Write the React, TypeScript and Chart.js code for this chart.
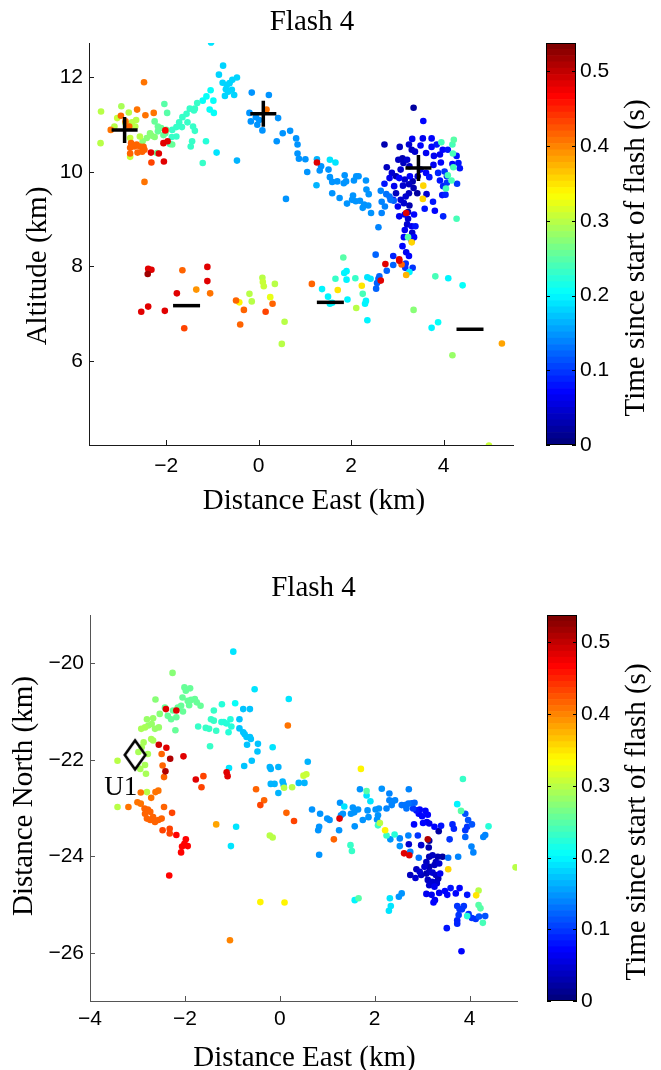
import React, { useEffect, useRef } from "react";
import { Chart, registerables } from "chart.js";

Chart.register(...registerables);

type Pt = [number, number, number]; // [east km, altitude or north km, time s]

// ---------------- scales, ticks, labels ----------------
const T_MAX = 0.538;
const CBAR_TICKS = [0, 0.1, 0.2, 0.3, 0.4, 0.5];
const CBAR_LEVELS = 64;

const PANEL_TITLE = "Flash 4";
const X_LABEL = "Distance East (km)";
const ALT_Y_LABEL = "Altitude (km)";
const PLAN_Y_LABEL = "Distance North (km)";
const CBAR_LABEL = "Time since start of flash (s)";

const ALT_X_RANGE = [-3.67, 5.5];
const ALT_Y_RANGE = [4.22, 12.73];
const ALT_X_TICKS = [-2, 0, 2, 4];
const ALT_Y_TICKS = [6, 8, 10, 12];

const PLAN_X_RANGE = [-4, 5];
const PLAN_Y_RANGE = [-27, -19];
const PLAN_X_TICKS = [-4, -2, 0, 2, 4];
const PLAN_Y_TICKS = [-26, -24, -22, -20];

// ---------------- markers ----------------
const ALT_CROSSES = [[-2.9, 10.89], [0.1, 11.23], [3.455, 10.085]];
const ALT_DASHES = [[-1.56, 7.17], [1.55, 7.24], [4.57, 6.67]];
const PLAN_U1 = [[-3.05, -21.9]];
const PLAN_U1_TEXT = "U1";

// ---------------- altitude view (east vs altitude) ----------------
const altWestEarly: Pt[] = [
  [-1.03, 12.74, 0.19],
  [-0.77, 12.25, 0.18], [-0.86, 12.06, 0.18], [-0.78, 11.89, 0.18], [-0.69, 11.84, 0.18], [-0.63, 11.88, 0.18],
  [-0.71, 11.75, 0.18], [-0.58, 11.74, 0.18], [-0.47, 12.0, 0.18], [-0.57, 11.95, 0.18], [-0.66, 11.7, 0.18],
  [-0.73, 11.61, 0.18], [-0.53, 11.63, 0.18],
  [-1.04, 11.73, 0.21], [-1.13, 11.6, 0.21], [-1.21, 11.51, 0.21], [-0.98, 11.51, 0.21], [-1.06, 11.32, 0.21],
  [-0.97, 11.25, 0.21], [-0.91, 10.41, 0.19],
  [-1.33, 11.46, 0.23], [-1.38, 11.34, 0.23], [-1.49, 11.34, 0.23], [-1.4, 11.3, 0.23], [-1.56, 11.23, 0.23],
  [-1.65, 11.16, 0.23], [-1.72, 11.05, 0.23], [-1.54, 11.05, 0.23], [-1.66, 10.95, 0.23], [-1.42, 10.96, 0.23],
  [-1.38, 10.87, 0.23], [-1.78, 10.95, 0.23], [-1.87, 10.89, 0.23], [-1.78, 10.75, 0.23], [-1.88, 10.74, 0.23],
  [-1.92, 10.59, 0.24], [-1.44, 10.65, 0.23], [-1.47, 10.54, 0.23], [-1.14, 10.65, 0.22], [-1.21, 10.19, 0.23],
  [-0.47, 10.24, 0.16],
  [-2.04, 11.44, 0.25], [-1.98, 11.25, 0.25], [-2.25, 11.07, 0.26], [-2.18, 10.96, 0.26], [-2.11, 10.93, 0.26],
  [-2.02, 10.82, 0.26], [-2.06, 10.78, 0.26], [-2.0, 10.89, 0.26], [-2.18, 10.86, 0.26], [-2.35, 10.82, 0.27],
  [-2.32, 10.77, 0.27], [-2.42, 10.72, 0.27], [-2.25, 10.74, 0.27], [-2.51, 10.65, 0.27], [-1.87, 10.58, 0.26],
  [-2.2, 10.4, 0.26],
];

const altWestLate: Pt[] = [
  [-3.41, 11.28, 0.3], [-3.42, 10.61, 0.3], [-2.97, 11.39, 0.29], [-2.81, 11.26, 0.3], [-2.65, 11.1, 0.3],
  [-2.74, 11.05, 0.3], [-2.88, 11.03, 0.3], [-3.06, 11.14, 0.31], [-3.12, 10.96, 0.3], [-2.67, 10.96, 0.3],
  [-2.78, 10.72, 0.31], [-2.57, 10.75, 0.3], [-2.78, 10.32, 0.31],
  [-2.48, 11.9, 0.41], [-2.63, 11.32, 0.41], [-2.45, 11.2, 0.41], [-2.27, 11.25, 0.41], [-2.98, 11.19, 0.42],
  [-2.88, 11.07, 0.41], [-3.2, 10.89, 0.41], [-2.8, 10.96, 0.42], [-2.76, 10.61, 0.42], [-2.69, 10.54, 0.42],
  [-2.78, 10.51, 0.42], [-2.64, 10.58, 0.42], [-2.57, 10.54, 0.42], [-2.49, 10.53, 0.42], [-2.47, 10.47, 0.42],
  [-2.62, 10.41, 0.42], [-2.52, 10.43, 0.42], [-2.78, 10.39, 0.42], [-2.32, 10.2, 0.43], [-2.47, 9.79, 0.41],
  [-2.33, 10.41, 0.48], [-2.16, 10.39, 0.48], [-2.06, 10.61, 0.48], [-1.97, 10.65, 0.48], [-2.02, 10.88, 0.47],
  [-2.05, 10.22, 0.48],
  [0.17, 11.32, 0.41],
];

const altChannel: Pt[] = [
  [-0.15, 11.68, 0.15], [0.22, 11.63, 0.15], [-0.2, 11.25, 0.15], [-0.17, 11.07, 0.15], [-0.06, 11.16, 0.15],
  [0.01, 11.1, 0.15], [-0.03, 11.0, 0.15], [0.08, 10.88, 0.15],
  [0.42, 11.14, 0.15], [0.39, 10.65, 0.15], [0.52, 10.82, 0.15], [0.68, 10.87, 0.15], [0.81, 10.71, 0.15],
  [0.84, 10.58, 0.15], [0.84, 10.39, 0.15], [0.87, 10.28, 0.15], [1.01, 10.27, 0.15], [1.05, 10.0, 0.15],
  [1.26, 10.27, 0.16], [1.25, 9.72, 0.16], [0.59, 9.43, 0.15], [1.35, 10.12, 0.15], [1.32, 10.03, 0.15],
  [1.51, 10.05, 0.15], [1.54, 10.26, 0.19], [1.66, 10.2, 0.19], [1.54, 9.89, 0.15], [1.59, 9.79, 0.15],
  [1.7, 9.8, 0.15], [1.59, 9.55, 0.15], [1.86, 9.93, 0.15], [1.84, 9.76, 0.15], [1.89, 9.8, 0.15],
  [2.06, 9.82, 0.15], [2.11, 9.91, 0.15], [2.16, 9.91, 0.15], [2.32, 9.82, 0.15], [2.33, 9.63, 0.15],
  [2.38, 9.53, 0.15], [1.75, 9.45, 0.15], [1.91, 9.33, 0.15], [2.04, 9.5, 0.15], [2.02, 9.41, 0.15],
  [2.1, 9.38, 0.15], [2.19, 9.39, 0.15], [2.28, 9.31, 0.15], [2.37, 9.29, 0.15], [2.25, 9.24, 0.15],
  [2.43, 9.13, 0.15], [2.66, 9.13, 0.14], [2.59, 8.83, 0.14], [2.66, 9.37, 0.14], [2.73, 9.27, 0.14],
  [2.64, 9.6, 0.14], [2.76, 9.53, 0.13], [2.83, 9.48, 0.13], [2.85, 9.41, 0.13], [2.92, 9.39, 0.12],
  [1.26, 10.2, 0.48],
];

const altCore: Pt[] = [
  [3.35, 11.36, 0.02], [3.56, 11.08, 0.07], [2.72, 10.58, 0.03], [3.32, 10.7, 0.06], [3.55, 10.71, 0.06],
  [3.74, 10.71, 0.07], [3.05, 10.53, 0.04], [3.25, 10.58, 0.05], [3.31, 10.47, 0.04], [3.38, 10.43, 0.05],
  [3.5, 10.56, 0.07], [3.62, 10.4, 0.06], [3.74, 10.53, 0.07], [3.85, 10.58, 0.08], [3.98, 10.47, 0.07],
  [3.92, 10.37, 0.06], [4.09, 10.47, 0.08], [3.79, 10.34, 0.06], [3.94, 10.2, 0.07], [4.19, 10.17, 0.07],
  [4.32, 10.19, 0.08], [4.35, 10.08, 0.08], [4.28, 10.34, 0.08], [3.02, 10.26, 0.04], [3.11, 10.29, 0.03],
  [3.13, 10.19, 0.04], [3.21, 10.26, 0.05], [3.26, 10.12, 0.04], [3.07, 10.05, 0.05], [2.77, 10.1, 0.04],
  [2.88, 9.98, 0.05], [2.97, 9.91, 0.03], [2.83, 9.87, 0.06], [3.04, 9.87, 0.07], [3.16, 9.84, 0.05],
  [3.27, 9.91, 0.07], [3.33, 9.8, 0.03], [3.44, 9.91, 0.05], [3.5, 10.05, 0.06], [3.62, 9.98, 0.07],
  [3.69, 9.89, 0.08], [3.78, 10.15, 0.06], [3.88, 9.98, 0.09], [3.92, 9.82, 0.08], [4.02, 10.01, 0.1],
  [4.07, 9.91, 0.09], [4.07, 9.77, 0.1], [3.99, 9.7, 0.09], [3.97, 9.51, 0.08], [4.04, 9.52, 0.09],
  [4.29, 9.75, 0.1], [2.72, 9.75, 0.08], [2.93, 9.7, 0.06], [3.12, 9.71, 0.05], [3.25, 9.74, 0.04],
  [3.35, 9.66, 0.03], [3.43, 9.55, 0.02], [3.25, 9.55, 0.04], [3.18, 9.48, 0.05], [2.97, 9.55, 0.04],
  [2.91, 9.41, 0.07], [3.07, 9.41, 0.05], [3.01, 9.27, 0.06], [3.14, 9.34, 0.05], [3.26, 9.29, 0.03],
  [3.16, 9.1, 0.06], [3.23, 9.15, 0.04], [3.36, 9.1, 0.07], [3.04, 9.06, 0.06], [3.23, 9.01, 0.05],
  [3.21, 8.89, 0.05], [3.31, 8.85, 0.06], [3.39, 8.85, 0.08], [3.16, 8.77, 0.06], [3.32, 8.71, 0.05],
  [3.14, 8.62, 0.07], [3.36, 8.62, 0.07], [3.31, 8.55, 0.06], [3.11, 8.43, 0.07], [3.19, 8.3, 0.06],
  [3.25, 8.22, 0.07], [2.91, 8.22, 0.09], [3.77, 9.37, 0.08], [3.59, 9.22, 0.08], [3.81, 9.18, 0.07],
  [3.99, 9.06, 0.09], [3.63, 9.53, 0.05],
  [3.95, 10.63, 0.24], [4.22, 10.68, 0.25], [4.19, 10.58, 0.24], [4.2, 10.39, 0.24], [4.21, 10.1, 0.24],
  [4.09, 9.93, 0.24], [4.17, 9.82, 0.24], [4.05, 9.65, 0.24], [4.28, 9.01, 0.24], [1.83, 8.19, 0.25],
  [3.23, 8.62, 0.25],
  [3.56, 9.71, 0.36], [3.55, 9.43, 0.36], [3.31, 8.51, 0.36],
  [3.19, 9.13, 0.48], [3.04, 8.15, 0.48],
];

const altLower: Pt[] = [
  [-2.39, 7.95, 0.48], [-2.32, 7.93, 0.48], [-2.4, 7.84, 0.52], [-2.54, 7.04, 0.48], [-2.39, 7.15, 0.48],
  [-2.03, 7.06, 0.48], [-1.77, 7.43, 0.48], [-1.11, 7.99, 0.48], [-1.11, 7.69, 0.48],
  [-1.65, 7.92, 0.42], [-1.61, 6.69, 0.43], [-0.49, 7.28, 0.42], [-0.32, 7.08, 0.42], [-0.4, 6.77, 0.42],
  [0.15, 7.04, 0.43], [0.3, 7.21, 0.42], [-1.05, 7.43, 0.41], [-1.35, 7.51, 0.39], [-0.42, 7.24, 0.34],
  [-0.2, 7.42, 0.3], [-0.15, 7.26, 0.3], [0.08, 7.76, 0.3], [0.09, 7.67, 0.31], [0.11, 7.58, 0.31],
  [0.35, 7.63, 0.3], [0.25, 7.35, 0.32], [0.56, 6.83, 0.3], [0.5, 6.36, 0.3],
  [1.15, 7.63, 0.42],
  [1.37, 7.52, 0.2], [1.5, 7.36, 0.2], [1.54, 7.21, 0.2], [1.59, 7.23, 0.2], [1.85, 7.86, 0.2],
  [1.9, 7.9, 0.2], [1.9, 7.72, 0.2], [1.92, 7.3, 0.2], [2.32, 7.27, 0.2], [2.3, 7.21, 0.2],
  [2.35, 6.86, 0.2], [2.35, 7.77, 0.19], [2.42, 7.74, 0.19], [3.74, 6.7, 0.2], [3.88, 6.82, 0.21],
  [4.1, 7.75, 0.2], [4.41, 7.6, 0.21], [3.26, 7.88, 0.2],
  [1.66, 7.74, 0.23], [2.09, 7.75, 0.23], [2.25, 7.42, 0.24], [3.82, 7.79, 0.24],
  [1.71, 7.5, 0.35], [2.23, 7.59, 0.35], [3.19, 7.82, 0.37],
  [2.11, 7.12, 0.3], [4.19, 6.12, 0.28], [4.98, 4.21, 0.31], [3.35, 7.08, 0.27], [5.26, 6.37, 0.38],
  [2.53, 8.25, 0.12], [3.18, 8.06, 0.1], [3.17, 7.97, 0.1], [3.33, 7.97, 0.1], [2.91, 8.03, 0.12],
  [2.77, 7.91, 0.12], [2.61, 7.79, 0.12], [2.59, 7.74, 0.12], [2.54, 7.53, 0.12], [2.56, 7.65, 0.12],
  [2.74, 8.05, 0.48], [3.04, 8.12, 0.48], [2.64, 7.7, 0.48], [3.09, 8.04, 0.42],
];

// ---------------- plan view (east vs north) ----------------
const planWest: Pt[] = [
  [-2.26, -20.2, 0.27],
  [-2.62, -20.75, 0.27], [-2.42, -20.92, 0.26], [-2.53, -21.05, 0.27], [-2.36, -21.09, 0.26], [-2.29, -21.16, 0.26],
  [-2.18, -21.12, 0.26], [-2.25, -20.98, 0.26], [-2.15, -20.92, 0.26], [-2.08, -20.88, 0.26], [-2.01, -20.5, 0.26],
  [-1.98, -20.57, 0.26], [-1.89, -20.52, 0.26], [-2.05, -20.71, 0.26], [-1.94, -20.78, 0.26], [-1.87, -20.76, 0.26],
  [-1.79, -20.74, 0.26], [-1.75, -20.81, 0.26], [-1.67, -20.88, 0.26], [-1.91, -20.87, 0.26], [-2.04, -21.0, 0.26],
  [-2.2, -21.39, 0.26],
  [-2.8, -21.16, 0.28], [-2.67, -21.14, 0.28], [-2.7, -21.26, 0.28], [-2.77, -21.29, 0.28], [-2.55, -21.33, 0.28],
  [-2.63, -21.36, 0.28], [-2.84, -21.33, 0.29], [-2.92, -21.36, 0.29], [-2.71, -21.57, 0.29], [-2.67, -21.6, 0.29],
  [-2.87, -21.64, 0.29], [-2.91, -21.74, 0.29], [-2.98, -21.84, 0.29], [-2.78, -21.88, 0.29], [-2.84, -22.11, 0.29],
  [-2.82, -22.29, 0.29], [-2.94, -22.19, 0.29], [-3.42, -22.02, 0.3], [-3.42, -22.98, 0.3], [-2.8, -22.67, 0.3],
  [-2.4, -20.95, 0.48], [-2.18, -20.98, 0.48], [-2.55, -21.69, 0.49], [-2.39, -21.75, 0.48], [-2.31, -21.98, 0.51],
  [-2.41, -22.24, 0.51], [-2.03, -21.93, 0.48], [-1.77, -22.41, 0.48], [-1.12, -22.26, 0.48], [-1.1, -22.34, 0.48],
  [-2.18, -23.56, 0.47], [-1.98, -23.65, 0.47], [-2.01, -23.74, 0.47], [-1.94, -23.79, 0.47], [-2.06, -23.8, 0.47],
  [-2.08, -23.92, 0.47], [-2.33, -24.4, 0.47],
  [-2.49, -21.88, 0.42], [-2.47, -22.12, 0.42], [-2.44, -22.36, 0.42], [-1.61, -22.34, 0.43], [-1.65, -22.57, 0.43],
  [-0.5, -22.61, 0.42], [-0.33, -22.84, 0.42], [-0.41, -22.94, 0.43], [0.14, -23.1, 0.42], [0.3, -23.27, 0.43],
  [-3.0, -22.88, 0.41], [-2.93, -22.91, 0.41], [-3.19, -22.98, 0.41], [-2.85, -23.01, 0.42], [-2.78, -23.03, 0.42],
  [-2.84, -23.12, 0.42], [-2.73, -23.08, 0.42], [-2.67, -23.19, 0.42], [-2.8, -23.22, 0.42], [-2.73, -23.25, 0.42],
  [-2.63, -23.29, 0.42], [-2.56, -23.25, 0.42], [-2.49, -23.22, 0.42], [-2.44, -22.98, 0.42], [-2.27, -23.1, 0.43],
  [-2.47, -23.46, 0.43], [-2.32, -23.43, 0.43], [-2.62, -22.67, 0.41], [-2.56, -22.64, 0.41], [-2.93, -22.68, 0.41],
  [-2.71, -22.79, 0.41], [-2.32, -23.53, 0.43],
  [-1.34, -23.34, 0.38], [0.17, -21.29, 0.41], [-1.05, -25.74, 0.4],
];

const planChannel: Pt[] = [
  [-0.98, -19.76, 0.19], [-0.53, -20.54, 0.19], [0.19, -20.74, 0.19],
  [-1.72, -21.31, 0.23], [-1.56, -21.34, 0.23], [-1.49, -21.36, 0.23], [-1.39, -20.98, 0.23], [-1.45, -21.16, 0.23],
  [-1.39, -21.19, 0.23], [-1.34, -21.4, 0.23], [-1.22, -20.85, 0.22], [-1.23, -21.22, 0.22], [-1.18, -21.22, 0.22],
  [-1.12, -21.25, 0.22], [-1.04, -21.16, 0.22], [-1.02, -21.31, 0.22], [-1.08, -21.43, 0.22], [-1.47, -21.72, 0.23],
  [-0.94, -20.83, 0.21],
  [-0.77, -20.95, 0.17], [-0.63, -20.95, 0.17], [-0.85, -21.16, 0.17], [-0.85, -21.35, 0.17], [-0.77, -21.43, 0.17],
  [-0.74, -21.47, 0.17], [-0.7, -21.53, 0.17], [-0.63, -21.53, 0.17], [-0.61, -21.57, 0.17], [-0.69, -21.69, 0.17],
  [-0.46, -21.67, 0.17], [-0.47, -21.83, 0.17], [-0.59, -22.02, 0.17], [-0.75, -22.13, 0.17], [-1.07, -22.17, 0.19],
  [-0.21, -22.15, 0.16], [-0.19, -22.19, 0.16], [-0.03, -22.15, 0.16], [-0.15, -21.74, 0.19], [-0.19, -22.5, 0.16],
  [-0.11, -22.5, 0.16], [0.06, -22.45, 0.16], [0.08, -22.52, 0.16], [-0.03, -22.69, 0.16], [0.4, -22.48, 0.16],
  [0.52, -22.48, 0.16], [-0.92, -23.39, 0.19], [-1.03, -23.79, 0.19],
  [0.26, -22.57, 0.3], [0.09, -22.58, 0.3], [0.5, -22.33, 0.31], [0.56, -22.3, 0.31], [-0.21, -23.57, 0.3],
  [-0.15, -23.61, 0.3], [0.59, -22.04, 0.16], [1.71, -22.19, 0.34], [-0.41, -24.95, 0.34], [0.1, -24.96, 0.34],
];

const planEast: Pt[] = [
  [0.68, -23.03, 0.15], [0.85, -23.12, 0.15], [1.0, -23.22, 0.15], [1.05, -23.25, 0.15], [1.27, -22.89, 0.15],
  [1.36, -22.97, 0.19], [1.33, -23.12, 0.15], [1.29, -23.15, 0.15], [1.54, -22.99, 0.15], [1.65, -23.03, 0.15],
  [1.57, -23.09, 0.15], [1.5, -23.12, 0.15], [1.75, -23.25, 0.15], [1.58, -23.38, 0.15], [1.85, -23.05, 0.15],
  [1.91, -22.86, 0.19], [2.02, -23.03, 0.15], [2.09, -23.01, 0.15], [1.87, -23.19, 0.15], [2.05, -23.24, 0.15],
  [2.07, -23.15, 0.15], [2.15, -22.6, 0.15], [1.69, -22.61, 0.15], [2.25, -23.01, 0.14], [2.31, -22.7, 0.14],
  [2.31, -22.84, 0.14], [2.38, -22.86, 0.14], [2.36, -22.94, 0.14], [2.43, -22.84, 0.14], [2.57, -22.94, 0.13],
  [2.64, -22.94, 0.13], [2.67, -23.01, 0.13], [2.72, -22.61, 0.14], [2.71, -22.91, 0.13], [2.78, -22.9, 0.12],
  [2.84, -22.89, 0.12], [2.81, -23.01, 0.1], [2.88, -23.05, 0.08], [2.95, -23.03, 0.07], [2.93, -23.12, 0.07],
  [3.0, -23.17, 0.07], [3.07, -23.06, 0.07], [3.12, -23.14, 0.07], [3.02, -23.31, 0.07], [2.83, -23.34, 0.07],
  [3.1, -23.29, 0.06], [3.15, -23.32, 0.06], [3.26, -23.39, 0.07], [3.4, -23.37, 0.08], [3.64, -23.34, 0.09],
  [3.67, -23.43, 0.09], [3.91, -23.12, 0.11], [3.97, -23.25, 0.11], [4.05, -23.34, 0.11], [3.95, -23.39, 0.1],
  [3.91, -23.46, 0.1], [1.25, -23.46, 0.15], [0.81, -23.46, 0.15], [0.83, -23.39, 0.15],
  [1.26, -23.22, 0.48], [3.12, -23.65, 0.51], [3.35, -23.48, 0.02], [4.4, -23.38, 0.22], [1.83, -22.65, 0.25],
  [1.83, -22.74, 0.19], [2.11, -23.31, 0.3], [2.22, -23.46, 0.34], [2.07, -23.36, 0.23], [2.25, -23.57, 0.23],
  [2.42, -23.55, 0.22],
  [2.71, -23.57, 0.14], [2.91, -23.57, 0.1], [2.53, -23.63, 0.14], [2.33, -23.65, 0.15], [3.58, -23.65, 0.1],
  [3.91, -23.6, 0.12], [4.29, -23.6, 0.14], [4.33, -23.56, 0.14],
  [1.14, -23.65, 0.42], [3.86, -22.4, 0.23], [3.74, -22.92, 0.2], [3.82, -23.06, 0.25],
];

const planCore: Pt[] = [
  [0.83, -23.97, 0.15], [1.49, -23.77, 0.23], [1.52, -23.89, 0.23],
  [2.72, -23.75, 0.05], [2.98, -23.77, 0.05], [3.15, -23.68, 0.02], [3.14, -23.82, 0.03], [3.15, -24.01, 0.03],
  [3.22, -23.98, 0.04], [3.33, -24.01, 0.03], [3.43, -24.01, 0.02], [3.29, -24.12, 0.04], [3.09, -24.12, 0.04],
  [3.05, -24.22, 0.05], [3.15, -24.22, 0.03], [3.26, -24.18, 0.04], [3.36, -24.15, 0.05], [2.88, -24.27, 0.04],
  [2.95, -24.32, 0.05], [2.75, -24.39, 0.04], [2.86, -24.45, 0.05], [2.98, -24.39, 0.04], [3.09, -24.36, 0.03],
  [3.15, -24.32, 0.04], [3.22, -24.34, 0.05], [3.29, -24.39, 0.04], [3.38, -24.36, 0.06], [3.12, -24.49, 0.04],
  [3.21, -24.53, 0.05], [3.31, -24.53, 0.04], [3.15, -24.6, 0.05], [3.26, -24.63, 0.06], [3.31, -24.56, 0.05],
  [3.34, -24.46, 0.03], [3.09, -24.78, 0.06], [3.2, -24.8, 0.06], [3.27, -24.91, 0.06], [3.24, -24.96, 0.07],
  [3.36, -24.76, 0.06], [3.48, -24.72, 0.07], [3.53, -24.8, 0.07], [3.6, -24.66, 0.08], [3.71, -24.77, 0.07],
  [3.79, -24.66, 0.07], [3.95, -24.8, 0.08], [3.52, -25.49, 0.08], [3.83, -25.97, 0.07],
  [2.62, -23.94, 0.48], [2.73, -23.98, 0.48],
  [2.75, -23.91, 0.14], [2.93, -24.03, 0.13], [3.55, -24.03, 0.13], [3.76, -24.01, 0.14], [4.04, -23.8, 0.14],
  [4.08, -23.92, 0.14], [2.53, -23.79, 0.15], [2.57, -24.77, 0.15], [2.51, -24.84, 0.15], [2.32, -24.87, 0.19],
  [2.34, -25.03, 0.19], [2.3, -25.13, 0.19],
  [1.58, -24.91, 0.2], [1.66, -24.87, 0.25],
  [3.55, -24.27, 0.36], [4.14, -24.81, 0.35],
  [4.19, -24.71, 0.3], [4.97, -24.23, 0.3],
  [4.19, -25.01, 0.25], [4.23, -25.08, 0.25], [4.28, -25.38, 0.24], [3.95, -25.24, 0.22],
  [3.74, -25.03, 0.1], [3.79, -25.1, 0.1], [3.88, -25.03, 0.1], [3.84, -25.1, 0.1], [3.77, -25.22, 0.1],
  [3.74, -25.33, 0.09], [3.74, -25.4, 0.09], [3.98, -25.2, 0.1], [4.05, -25.28, 0.1], [4.13, -25.3, 0.1],
  [4.2, -25.25, 0.11], [4.33, -25.24, 0.11],
];

// ---------------- styling helpers ----------------
const SERIF = "'Liberation Serif', 'Times New Roman', serif";
const SANS = "'Liberation Sans', Arial, Helvetica, sans-serif";

function jet(n: number): string {
  const c = (v: number) => Math.round(255 * Math.max(0, Math.min(1, v)));
  return `rgb(${c(1.5 - Math.abs(4 * n - 3))},${c(1.5 - Math.abs(4 * n - 2))},${c(1.5 - Math.abs(4 * n - 1))})`;
}
function timeColor(t: number): string {
  const idx = Math.min(CBAR_LEVELS - 1, Math.max(0, Math.floor((t / T_MAX) * CBAR_LEVELS)));
  return jet(idx / (CBAR_LEVELS - 1));
}
const fmtNum = (v: number) => (v < 0 ? "\u2212" + Math.abs(v) : String(v));

const inwardTicks = {
  id: "inwardTicks",
  afterDraw(chart: any, _args: any, opts: any) {
    const { ctx, chartArea: a, scales } = chart;
    const xs = scales.x;
    const ys = scales.y;
    ctx.save();
    ctx.strokeStyle = opts.color;
    ctx.lineWidth = 1;
    ctx.beginPath();
    xs.ticks.forEach((t: any) => {
      const px = Math.round(xs.getPixelForValue(t.value)) + 0.5;
      ctx.moveTo(px, a.bottom);
      ctx.lineTo(px, a.bottom - 5);
    });
    ys.ticks.forEach((t: any) => {
      const py = Math.round(ys.getPixelForValue(t.value)) + 0.5;
      ctx.moveTo(a.left, py);
      ctx.lineTo(a.left + 5, py);
    });
    ctx.stroke();
    ctx.restore();
  },
};

// titles and axis labels, placed relative to the chart area
const panelText = {
  id: "panelText",
  afterDraw(chart: any, _args: any, opts: any) {
    const { ctx, chartArea: a } = chart;
    const cx = (a.left + a.right) / 2;
    const cy = (a.top + a.bottom) / 2;
    ctx.save();
    ctx.fillStyle = "#000";
    ctx.font = `29px ${SERIF}`;
    ctx.textAlign = "center";
    ctx.textBaseline = "middle";
    ctx.fillText(opts.title, cx + opts.titleDx, a.top - opts.titleUp);
    ctx.fillText(opts.xLabel, cx + opts.xLabelDx, a.bottom + opts.xLabelDown);
    ctx.translate(a.left - opts.yLabelLeft, cy + opts.yLabelDy);
    ctx.rotate(-Math.PI / 2);
    ctx.fillText(opts.yLabel, 0, 0);
    ctx.restore();
  },
};

const markerLabel = {
  id: "markerLabel",
  afterDatasetsDraw(chart: any, _args: any, opts: any) {
    if (!opts || !opts.text) return;
    const meta = chart.getDatasetMeta(opts.datasetIndex);
    if (!meta || !meta.data.length) return;
    const el = meta.data[0];
    const { ctx } = chart;
    ctx.save();
    ctx.fillStyle = "#000";
    ctx.font = `27px ${SERIF}`;
    ctx.textAlign = "center";
    ctx.textBaseline = "middle";
    ctx.fillText(opts.text, el.x + opts.dx, el.y + opts.dy);
    ctx.restore();
  },
};

function diamondImage(): HTMLCanvasElement {
  const c = document.createElement("canvas");
  c.width = 28;
  c.height = 36;
  const g = c.getContext("2d")!;
  g.strokeStyle = "#000";
  g.lineWidth = 2.6;
  g.lineJoin = "miter";
  g.beginPath();
  g.moveTo(14, 3.5);
  g.lineTo(24.3, 18);
  g.lineTo(14, 32.5);
  g.lineTo(3.7, 18);
  g.closePath();
  g.stroke();
  return c;
}

function pointDataset(groups: Pt[][]) {
  const pts = groups
    .flat()
    .map(([x, y, t]) => ({ x, y, t }))
    .sort((p, q) => p.t - q.t);
  return {
    data: pts,
    showLine: false,
    pointRadius: 3.3,
    pointBorderWidth: 0,
    pointBackgroundColor: pts.map((p) => timeColor(p.t)),
    pointBorderColor: "rgba(0,0,0,0)",
  };
}

interface PanelSpec {
  xRange: number[];
  yRange: number[];
  xTicks: number[];
  yTicks: number[];
  yLabel: string;
  leftWidth: number;
  bottomHeight: number;
  padRight: number;
  padTop: number;
  xTickPad: number;
  axisColor: string;
  text: any;
}

function scatterConfig(spec: PanelSpec, markerSets: any[], labelOpts: any, groups: Pt[][]): any {
  const tickFont = { family: SANS, size: 21, lineHeight: 1.2 };
  return {
    type: "scatter",
    data: { datasets: [...markerSets, pointDataset(groups)] },
    options: {
      responsive: false,
      animation: false,
      events: [],
      layout: { padding: { left: 0, right: spec.padRight, top: spec.padTop, bottom: 0 } },
      plugins: {
        legend: { display: false },
        tooltip: { enabled: false },
        title: { display: false },
        markerLabel: labelOpts,
        inwardTicks: { color: spec.axisColor },
        panelText: { title: PANEL_TITLE, xLabel: X_LABEL, yLabel: spec.yLabel, ...spec.text },
      },
      scales: {
        x: {
          type: "linear",
          min: spec.xRange[0],
          max: spec.xRange[1],
          afterBuildTicks: (s: any) => {
            s.ticks = spec.xTicks.map((v) => ({ value: v }));
          },
          afterFit: (s: any) => {
            s.height = spec.bottomHeight;
          },
          grid: { display: false, drawTicks: false },
          border: { display: true, color: spec.axisColor, width: 1 },
          ticks: {
            color: "#000",
            font: tickFont,
            padding: spec.xTickPad,
            autoSkip: false,
            maxRotation: 0,
            callback: (v: number) => fmtNum(v),
          },
        },
        y: {
          type: "linear",
          min: spec.yRange[0],
          max: spec.yRange[1],
          afterBuildTicks: (s: any) => {
            s.ticks = spec.yTicks.map((v) => ({ value: v }));
          },
          afterFit: (s: any) => {
            s.width = spec.leftWidth;
          },
          grid: { display: false, drawTicks: false },
          border: { display: true, color: spec.axisColor, width: 1 },
          ticks: {
            color: "#000",
            font: tickFont,
            padding: 6,
            autoSkip: false,
            callback: (v: number) => fmtNum(v),
          },
        },
      },
    },
    plugins: [inwardTicks, markerLabel, panelText],
  };
}

const colorbarPlugin = {
  id: "colorbarFrame",
  afterDraw(chart: any) {
    const { ctx, chartArea: a, scales } = chart;
    const ys = scales.y;
    ctx.save();
    ctx.strokeStyle = "#000";
    ctx.lineWidth = 1;
    ctx.strokeRect(a.left + 0.5, a.top + 0.5, a.right - a.left - 1, a.bottom - a.top - 1);
    ctx.beginPath();
    CBAR_TICKS.forEach((v) => {
      const py = Math.round(ys.getPixelForValue(v)) + 0.5;
      ctx.moveTo(a.left, py);
      ctx.lineTo(a.left + 4, py);
      ctx.moveTo(a.right, py);
      ctx.lineTo(a.right - 4, py);
    });
    ctx.stroke();
    ctx.translate(a.right + 60, (a.top + a.bottom) / 2 + 14);
    ctx.rotate(-Math.PI / 2);
    ctx.fillStyle = "#000";
    ctx.font = `29px ${SERIF}`;
    ctx.textAlign = "center";
    ctx.textBaseline = "middle";
    ctx.fillText(CBAR_LABEL, 0, 0);
    ctx.restore();
  },
};

function colorbarConfig(pad: { left: number; top: number; bottom: number }, axisWidth: number): any {
  const stripes = Array.from({ length: CBAR_LEVELS }, (_, i) => i);
  return {
    type: "bar",
    data: {
      labels: [""],
      datasets: stripes.map((i) => ({
        data: [T_MAX / CBAR_LEVELS],
        backgroundColor: jet(i / (CBAR_LEVELS - 1)),
        borderWidth: 0,
        barPercentage: 1,
        categoryPercentage: 1,
      })),
    },
    options: {
      responsive: false,
      animation: false,
      events: [],
      layout: { padding: { left: pad.left, right: 0, top: pad.top, bottom: pad.bottom } },
      plugins: { legend: { display: false }, tooltip: { enabled: false }, title: { display: false } },
      scales: {
        x: { display: false, stacked: true },
        y: {
          position: "right",
          stacked: true,
          min: 0,
          max: T_MAX,
          afterBuildTicks: (s: any) => {
            s.ticks = CBAR_TICKS.map((v) => ({ value: v }));
          },
          afterFit: (s: any) => {
            s.width = axisWidth;
          },
          grid: { display: false, drawTicks: false },
          border: { display: false },
          ticks: {
            color: "#000",
            font: { family: SANS, size: 21, lineHeight: 1.2 },
            padding: 4,
            autoSkip: false,
            callback: (v: number) => (v === 0 ? "0" : v.toFixed(1)),
          },
        },
      },
    },
    plugins: [colorbarPlugin],
  };
}

function ChartCanvas(props: { make: () => any; left: number; top: number; width: number; height: number }) {
  const ref = useRef<HTMLCanvasElement>(null);
  useEffect(() => {
    const chart = new Chart(ref.current as HTMLCanvasElement, props.make());
    return () => chart.destroy();
  }, []);
  return (
    <canvas
      ref={ref}
      width={props.width}
      height={props.height}
      style={{ position: "absolute", left: props.left, top: props.top, width: props.width, height: props.height }}
    />
  );
}

export default function App() {
  const makeAlt = () =>
    scatterConfig(
      {
        xRange: ALT_X_RANGE,
        yRange: ALT_Y_RANGE,
        xTicks: ALT_X_TICKS,
        yTicks: ALT_Y_TICKS,
        yLabel: ALT_Y_LABEL,
        leftWidth: 89,
        bottomHeight: 75,
        padRight: 7,
        padTop: 43,
        xTickPad: 9,
        axisColor: "#1a1a1a",
        text: { titleDx: 11, titleUp: 21, xLabelDx: 13, xLabelDown: 56, yLabelLeft: 51, yLabelDy: 22 },
      },
      [
        {
          data: ALT_CROSSES.map(([x, y]) => ({ x, y })),
          pointStyle: "cross",
          pointRadius: 13,
          pointBorderWidth: 3.5,
          pointBorderColor: "#000",
          pointBackgroundColor: "#000",
          showLine: false,
        },
        {
          data: ALT_DASHES.map(([x, y]) => ({ x, y })),
          pointStyle: "line",
          pointRadius: 13.5,
          pointBorderWidth: 3.5,
          pointBorderColor: "#000",
          pointBackgroundColor: "#000",
          showLine: false,
        },
      ],
      null,
      [altWestEarly, altWestLate, altChannel, altCore, altLower]
    );

  const makePlan = () =>
    scatterConfig(
      {
        xRange: PLAN_X_RANGE,
        yRange: PLAN_Y_RANGE,
        xTicks: PLAN_X_TICKS,
        yTicks: PLAN_Y_TICKS,
        yLabel: PLAN_Y_LABEL,
        leftWidth: 90,
        bottomHeight: 69,
        padRight: 5,
        padTop: 55,
        xTickPad: 6,
        axisColor: "#555",
        text: { titleDx: 10, titleUp: 27, xLabelDx: 1, xLabelDown: 57, yLabelLeft: 66, yLabelDy: -12 },
      },
      [
        {
          data: PLAN_U1.map(([x, y]) => ({ x, y })),
          pointStyle: diamondImage(),
          pointRadius: 12,
          showLine: false,
        },
      ],
      { datasetIndex: 0, text: PLAN_U1_TEXT, dx: -14.3, dy: 33.2 },
      [planWest, planChannel, planEast, planCore]
    );

  return (
    <div style={{ position: "absolute", left: 0, top: 0, width: 661, height: 1070, background: "#fff" }}>
      <ChartCanvas make={makeAlt} left={0} top={0} width={530} height={520} />
      <ChartCanvas make={() => colorbarConfig({ left: 16, top: 43, bottom: 75 }, 85)} left={530} top={0} width={131} height={520} />
      <ChartCanvas make={makePlan} left={0} top={560} width={530} height={510} />
      <ChartCanvas make={() => colorbarConfig({ left: 17, top: 55, bottom: 69 }, 84)} left={530} top={560} width={131} height={510} />
    </div>
  );
}
